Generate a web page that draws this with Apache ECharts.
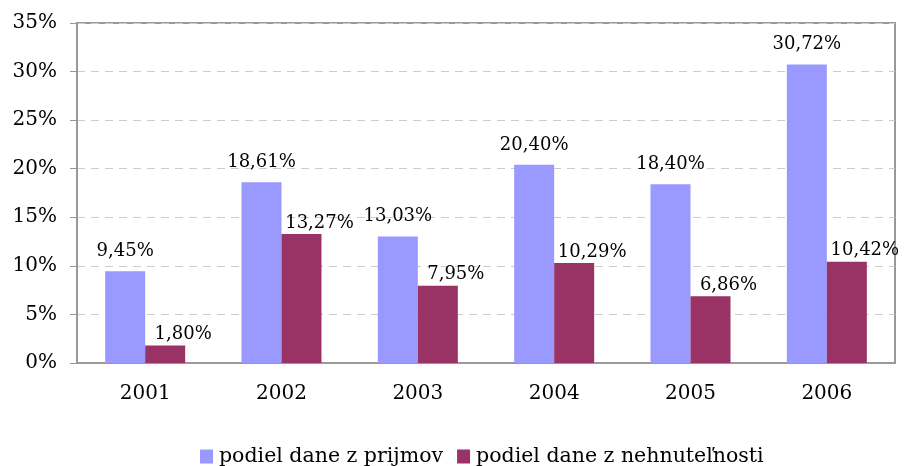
<!DOCTYPE html>
<html>
<head>
<meta charset="utf-8">
<script src="https://cdn.jsdelivr.net/npm/echarts@6/dist/echarts.min.js"></script>
<style>
  html, body { margin: 0; padding: 0; background: #fff; }
  #chart { width: 904px; height: 466px; }
</style>
</head>
<body>
<div id="chart"></div>
<script>
const years = ['2001', '2002', '2003', '2004', '2005', '2006']
const prijmy = [9.45, 18.61, 13.03, 20.40, 18.40, 30.72]
const nehnutelnosti = [1.80, 13.27, 7.95, 10.29, 6.86, 10.42]
const seriesNames = ['podiel dane z prijmov', 'podiel dane z nehnuteľnosti']

const font = 'DejaVu Serif'
// excel style labels with comma decimals
const fmt = (p) => p.value.toFixed(2).replace('.', ',') + '%'

const chart = echarts.init(document.getElementById('chart'))
chart.setOption({
  animation: false,
  textStyle: { fontFamily: font },
  grid: {
    left: 77, right: 9, top: 23, bottom: 103,
    show: true, borderColor: '#999', borderWidth: 2
  },
  legend: {
    top: 441,
    left: 195,
    itemWidth: 13,
    itemHeight: 14,
    itemGap: 14,
    icon: 'rect',
    textStyle: { fontFamily: font, fontSize: 20.5, color: '#000', padding: [0, 0, 0, 1] },
    data: seriesNames
  },
  xAxis: {
    type: 'category',
    data: years,
    axisLine: { lineStyle: { color: '#999', width: 2 } },
    axisTick: { length: 6, lineStyle: { color: '#999', width: 1 } },
    axisLabel: { margin: 21, fontSize: 20, color: '#000', fontFamily: font }
  },
  yAxis: {
    type: 'value',
    min: 0, max: 35, interval: 5,
    axisLine: { show: true, lineStyle: { color: '#999', width: 2 } },
    axisTick: { show: true, length: 7, lineStyle: { color: '#999', width: 1 } },
    axisLabel: { formatter: '{value}%', margin: 20, fontSize: 20, color: '#000', fontFamily: font },
    splitLine: { lineStyle: { color: '#ccc', type: [8, 6], width: 1 } }
  },
  series: [
    {
      name: seriesNames[0],
      type: 'bar',
      data: prijmy,
      barWidth: 40,
      barGap: '0%',
      itemStyle: { color: '#9999FF' },
      label: {
        show: true, position: 'top', distance: 11,
        formatter: fmt, fontSize: 18, color: '#000', fontFamily: font
      }
    },
    {
      name: seriesNames[1],
      type: 'bar',
      data: nehnutelnosti,
      barWidth: 40,
      barGap: '0%',
      itemStyle: { color: '#993366' },
      label: {
        show: true, position: 'top', distance: 2, offset: [18, 0],
        formatter: fmt, fontSize: 18, color: '#000', fontFamily: font
      }
    }
  ]
})
</script>
</body>
</html>
